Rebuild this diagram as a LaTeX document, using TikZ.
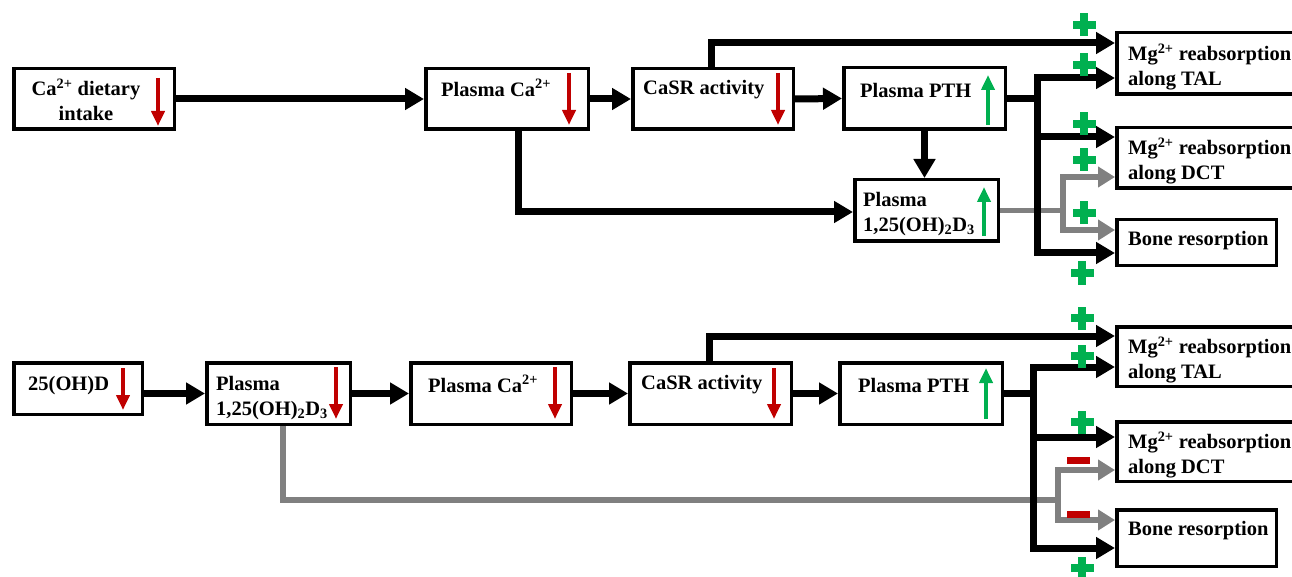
\documentclass[tikz,border=0pt]{standalone}
\usepackage{fontspec}
\setmainfont{Liberation Serif}
\usetikzlibrary{arrows.meta}
\definecolor{cred}{HTML}{C00000}
\definecolor{cgreen}{HTML}{00B050}
\definecolor{cgray}{HTML}{808080}
\newcommand\mkbox[5]{\node[boxst, minimum width={(#4)-(#2)-3.5}, minimum height={(#5)-(#3)-3.5}] (#1) at ({((#2)+(#4))/2},{((#3)+(#5))/2}) {};}
\newcommand\plusg[2]{\fill[cgreen] ({#1-11.5},{#2-3.75}) rectangle ({#1+11.5},{#2+3.75}); \fill[cgreen] ({#1-3.75},{#2-11.5}) rectangle ({#1+3.75},{#2+11.5});}
\newcommand\minusr[2]{\fill[cred] ({#1-11.5},{#2-3.5}) rectangle ({#1+11.5},{#2+3.5});}
\tikzset{
  boxst/.style={draw, line width=3.5pt, inner sep=0pt},
  txt/.style={font=\fontsize{20.5}{25}\selectfont\bfseries, inner sep=0pt, align=left},
  con/.style={line width=7pt, -{Triangle[length=19pt,width=21pt]}},
  bline/.style={line width=7pt},
  gcon/.style={cgray, line width=5.5pt, -{Triangle[length=17pt,width=20pt]}},
  gline/.style={cgray, line width=5.5pt},
  dnR/.style={cred, line width=4pt, -{Triangle[length=15pt,width=13pt]}},
  upG/.style={cgreen, line width=4pt, -{Triangle[length=15pt,width=13pt]}},
}
\begin{document}
\begin{tikzpicture}[x=1pt,y=-1pt]
\useasboundingbox (0,0) rectangle (1292,577);
% ---------- top row boxes ----------
\mkbox{diet}{12}{67}{176}{131}
\mkbox{pca1}{424}{67}{590}{131}
\mkbox{casr1}{631}{67}{795}{131}
\mkbox{pth1}{842}{66}{1007}{131}
\mkbox{dthree1}{853}{178}{1000}{243}
\mkbox{tal1}{1115}{31}{1300}{96}
\mkbox{dct1}{1115}{126}{1300}{190}
\mkbox{bone1}{1115}{218}{1278}{267}
% ---------- bottom row boxes ----------
\mkbox{oh}{12}{361}{144}{416}
\mkbox{dthree2}{205}{361}{352}{426}
\mkbox{pca2}{409}{361}{573}{426}
\mkbox{casr2}{628}{361}{793}{426}
\mkbox{pth2}{838}{361}{1004}{426}
\mkbox{tal2}{1115}{325}{1300}{388}
\mkbox{dct2}{1115}{420}{1300}{483}
\mkbox{bone2}{1115}{508}{1278}{568}
% ---------- texts ----------
\node[txt, align=center] (tdiet) at (86,100) {Ca\textsuperscript{2+} dietary\\intake};
\node[txt, anchor=west] (tpca1) at (441,88) {Plasma Ca\textsuperscript{2+}};
\node[txt, anchor=west] (tcasr1) at (643,90) {CaSR activity};
\node[txt, anchor=west] (tpth1) at (860,90) {Plasma PTH};
\node[txt, anchor=west] (td31) at (863,214) {Plasma\\1,25(OH)\textsubscript{2}D\textsubscript{3}};
\node[txt, anchor=west] (ttal1) at (1128,67) {Mg\textsuperscript{2+} reabsorption\\along TAL};
\node[txt, anchor=west] (tdct1) at (1128,161) {Mg\textsuperscript{2+} reabsorption\\along DCT};
\node[txt, anchor=west] (tbone1) at (1128,241) {Bone resorption};
\node[txt, anchor=west] (toh) at (28,386) {25(OH)D};
\node[txt, anchor=west] (td32) at (216,398) {Plasma\\1,25(OH)\textsubscript{2}D\textsubscript{3}};
\node[txt, anchor=west] (tpca2) at (428,384) {Plasma Ca\textsuperscript{2+}};
\node[txt, anchor=west] (tcasr2) at (641,385) {CaSR activity};
\node[txt, anchor=west] (tpth2) at (858,385) {Plasma PTH};
\node[txt, anchor=west] (ttal2) at (1128,360) {Mg\textsuperscript{2+} reabsorption\\along TAL};
\node[txt, anchor=west] (tdct2) at (1128,455) {Mg\textsuperscript{2+} reabsorption\\along DCT};
\node[txt, anchor=west] (tbone2) at (1128,531) {Bone resorption};
% ---------- indicator arrows ----------
\draw[dnR] (158,78) -- (158,126);
\draw[dnR] (569,73) -- (569,125);
\draw[dnR] (778,73) -- (778,125);
\draw[upG] (988,125) -- (988,75);
\draw[upG] (984,236) -- (984,187);
\draw[dnR] (123,368) -- (123,410);
\draw[dnR] (336,367) -- (336,419);
\draw[dnR] (555,367) -- (555,419);
\draw[dnR] (774,368) -- (774,419);
\draw[upG] (986,419) -- (986,368);
% ---------- top connectors ----------
\coordinate (gA) at (1063,177);
\coordinate (gB) at (1063,230);
\draw[gline] (dthree1.east) -- (dthree1.east -| gA);
\draw[gcon] (gB) -- (gA) -- (gA -| dct1.west);
\draw[gcon] (gA) -- (gB) -- (gB -| bone1.west);
\draw[con] (diet.east |- pca1.west) -- (pca1.west);
\draw[con] (pca1.east) -- (casr1.west);
\draw[con] (casr1.east) -- (pth1.west);
\coordinate (k1) at (711,43);
\draw[con] (casr1.north -| k1) -- (k1) -- (k1 -| tal1.west);
\draw[con] (pth1.south) -- (pth1.south |- dthree1.north);
\coordinate (c1) at (518,212);
\draw[con] (pca1.south -| c1) -- (c1) -- (c1 -| dthree1.west);
\coordinate (tA) at (1037,78);
\coordinate (tB) at (1037,137);
\coordinate (tC) at (1037,253);
\draw[bline] (pth1.east) -- (pth1.east -| tA);
\draw[con] (tC) -- (tA) -- (tA -| tal1.west);
\draw[con] (tA) -- (tC) -- (tC -| bone1.west);
\draw[con] (tB) -- (tB -| dct1.west);
% ---------- bottom connectors ----------
\coordinate (gC) at (283,500);
\coordinate (gD) at (1058,470);
\coordinate (gE) at (1058,520);
\draw[gline] (dthree2.south -| gC) -- (gC) -- (gC -| gD);
\draw[gcon] (gE) -- (gD) -- (gD -| dct2.west);
\draw[gcon] (gD) -- (gE) -- (gE -| bone2.west);
\draw[con] (oh.east |- dthree2.west) -- (dthree2.west);
\draw[con] (dthree2.east) -- (pca2.west);
\draw[con] (pca2.east) -- (casr2.west);
\draw[con] (casr2.east) -- (pth2.west);
\coordinate (k2) at (709,336);
\draw[con] (casr2.north -| k2) -- (k2) -- (k2 -| tal2.west);
\coordinate (sA) at (1033,367);
\coordinate (sB) at (1033,437);
\coordinate (sC) at (1033,548);
\draw[bline] (pth2.east) -- (pth2.east -| sA);
\draw[con] (sC) -- (sA) -- (sA -| tal2.west);
\draw[con] (sA) -- (sC) -- (sC -| bone2.west);
\draw[con] (sB) -- (sB -| dct2.west);
% ---------- signs ----------
\plusg{1084}{25}
\plusg{1084}{65}
\plusg{1084}{124}
\plusg{1084}{160}
\plusg{1084}{213}
\plusg{1082}{273}
\plusg{1082}{318}
\plusg{1082}{356}
\plusg{1082}{422}
\plusg{1082}{568}
\minusr{1078}{460}
\minusr{1078}{514}
\end{tikzpicture}
\end{document}
